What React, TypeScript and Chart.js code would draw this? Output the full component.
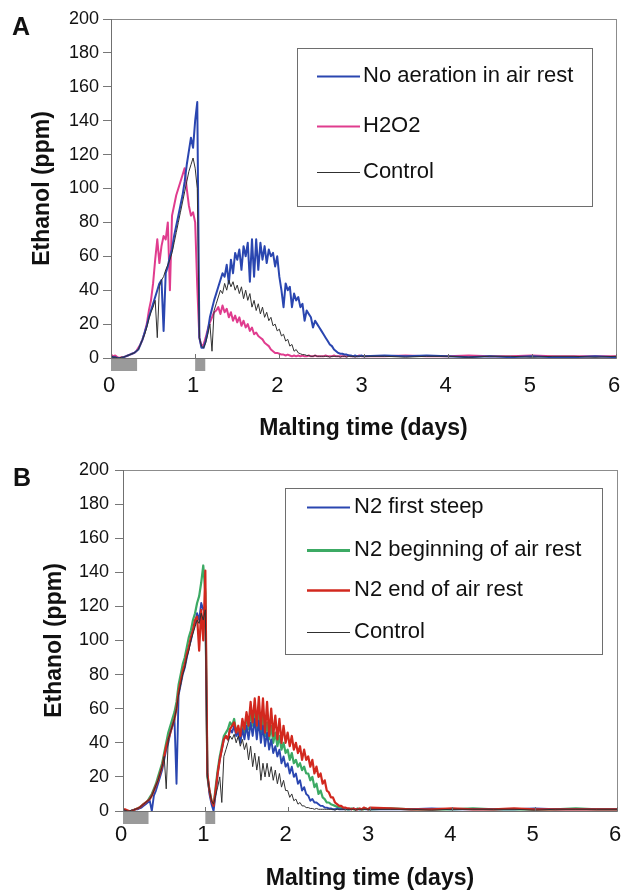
import React, { useEffect, useRef } from "react";
import { Chart, registerables } from "chart.js";

Chart.register(...registerables);

const FONT = '"Liberation Sans", Arial, Helvetica, sans-serif';
const CANVAS_W = 660;
const PANEL_H = 446;

// Malting time (days), shared x values for all series
const timeDays = [
  0, 0.025, 0.05, 0.075, 0.1, 0.125, 0.15, 0.175, 0.2, 0.225,
  0.25, 0.275, 0.3, 0.325, 0.35, 0.375, 0.4, 0.425, 0.45, 0.475,
  0.5, 0.525, 0.55, 0.575, 0.6, 0.625, 0.65, 0.675, 0.7, 0.725,
  0.75, 0.775, 0.8, 0.825, 0.85, 0.875, 0.9, 0.925, 0.95, 0.975,
  1.0, 1.025, 1.05, 1.075, 1.1, 1.125, 1.15, 1.175, 1.2, 1.225,
  1.25, 1.275, 1.3, 1.325, 1.35, 1.375, 1.4, 1.425, 1.45, 1.475,
  1.5, 1.525, 1.55, 1.575, 1.6, 1.625, 1.65, 1.675, 1.7, 1.725,
  1.75, 1.775, 1.8, 1.825, 1.85, 1.875, 1.9, 1.925, 1.95, 1.975,
  2.0, 2.025, 2.05, 2.075, 2.1, 2.125, 2.15, 2.175, 2.2, 2.225,
  2.25, 2.275, 2.3, 2.325, 2.35, 2.375, 2.4, 2.425, 2.45, 2.475,
  2.5, 2.525, 2.55, 2.575, 2.6, 2.625, 2.65, 2.675, 2.7, 2.725,
  2.75, 2.775, 2.8, 2.825, 2.85, 2.875, 2.9, 2.925, 2.95, 2.975,
  3.0,
  3.25, 3.5, 3.75, 4.0, 4.25, 4.5, 4.75, 5.0, 5.25, 5.5, 5.75, 6.0,
];

// Steeping periods (grey bars under the x axis), in days
const steepPeriods = [
  [0, 0.31],
  [1.0, 1.12],
];

// Axis ranges
const xMin = 0, xMax = 6, xStep = 1;
const yMin = 0, yMax = 200, yStep = 20;

// ---------- Panel A ----------
const noAerationA = [
  1, 0.5, 0.5, 0, 0, 0, 0.5, 1, 1.5, 2,
  2.5, 3, 4, 5, 8, 11, 15, 19, 24, 28,
  32, 36, 40, 44, 46, 16, 50, 54, 60, 64,
  72, 78, 84, 90, 96, 104, 114, 122, 130, 124,
  140, 151, 12, 6, 6, 10, 16, 24, 29, 34,
  38, 42, 46, 50, 48, 55, 44, 58, 50, 62,
  58, 64, 52, 66, 60, 68, 45, 70, 48, 70,
  52, 68, 58, 66, 56, 64, 60, 62, 54, 60,
  48, 40, 30, 44, 40, 42, 30, 38, 34, 36,
  30, 32, 22, 28, 26, 24, 18, 22, 20, 18,
  16, 14, 12, 10, 8, 7, 5, 4, 3, 2.5,
  2.5, 2, 2, 1.5, 1.5, 1, 1.5, 1, 1, 1.5,
  1,
  1.5, 1, 1.5, 1, 0.5, 1, 0.5, 1, 0.5, 0.5, 1, 0.5,
];

const h2o2A = [
  2, 1, 1.5, 0.5, 0, 0.5, 0.5, 1, 1.5, 2,
  2.5, 3, 4, 6, 8, 11, 15, 20, 28, 34,
  44, 58, 70, 56, 66, 72, 70, 80, 40, 84,
  90, 96, 100, 104, 108, 112, 100, 90, 84, 86,
  80, 42, 12, 7, 8, 12, 17, 21, 24, 27,
  28, 30, 26, 31, 27, 29, 24, 27, 22, 25,
  21, 24, 19, 22, 18, 20, 16, 18, 14, 15,
  13, 12, 11, 9, 8, 7, 5, 4, 3, 3,
  2.5, 2, 2, 1.5, 2, 1.5, 1, 1.5, 1, 1.5,
  1, 1.5, 1, 1, 1.5, 1, 1, 1.5, 1, 1,
  1, 1, 1.5, 1, 1, 1, 1.5, 1, 1, 1,
  1, 1, 1, 1.5, 1, 1, 1, 1, 1.5, 1,
  1,
  1, 1.5, 1, 1, 1.5, 1, 1, 1.5, 1, 1, 1, 1,
];

const controlA = [
  1, 0.5, 0.5, 0, 0, 0.5, 0.5, 1, 1.5, 2,
  2.5, 3, 4, 5, 8, 11, 14, 18, 23, 27,
  30, 34, 12, 42, 46, 48, 52, 55, 58, 62,
  68, 74, 80, 86, 92, 98, 104, 110, 114, 118,
  112, 100, 12, 7, 6, 9, 14, 20, 4, 28,
  32, 36, 40, 38, 44, 40, 46, 42, 45, 40,
  43, 38, 42, 35, 40, 34, 38, 30, 34, 28,
  32, 26, 30, 24, 27, 22, 24, 19, 20, 16,
  17, 13, 14, 10, 11, 7, 8, 4, 5, 3,
  2.5, 2, 2, 1.5, 1.5, 1, 1, 1.5, 1, 1,
  1, 1, 1, 1, 0.5, 1, 1, 1, 1, 0.5,
  1, 1, 0.5, 1, 1, 1, 0.5, 1, 1, 1,
  1,
  1, 0.5, 1, 1, 0.5, 1, 1, 0.5, 1, 1, 0.5, 1,
];

// ---------- Panel B ----------
const n2FirstSteepB = [
  1, 0.5, 0, 0, 0, 0.5, 1, 1, 1.5, 2,
  3, 4, 5, 6, 0, 9, 12, 16, 20, 24,
  30, 36, 40, 46, 50, 54, 16, 68, 74, 80,
  84, 90, 96, 100, 106, 110, 116, 112, 122, 118,
  120, 22, 10, 4, 0, 10, 22, 30, 36, 42,
  44, 42, 48, 46, 50, 44, 46, 40, 48, 42,
  50, 42, 52, 44, 54, 42, 53, 40, 50, 38,
  46, 36, 42, 34, 38, 32, 36, 28, 32, 26,
  28, 22, 26, 20, 22, 16, 18, 12, 14, 10,
  9, 6, 7, 5, 5, 4, 3, 3, 2, 2,
  1.5, 1.5, 1, 1, 1.5, 1, 1, 1, 1.5, 1,
  1, 1, 1.5, 1, 1, 1, 1, 1.5, 1, 1,
  1,
  1, 1, 1.5, 1, 1, 1, 1, 1.5, 1, 1, 1, 1,
];

const n2BeginningB = [
  1, 0.5, 0, 0, 0, 0.5, 1, 1.5, 2, 3,
  4, 5, 6, 8, 10, 13, 16, 20, 24, 28,
  34, 40, 46, 50, 54, 58, 64, 74, 80, 86,
  90, 96, 102, 106, 112, 116, 122, 126, 134, 144,
  128, 20, 12, 6, 3, 14, 24, 32, 38, 44,
  46, 48, 52, 50, 54, 46, 48, 42, 52, 46,
  56, 48, 58, 50, 58, 48, 57, 46, 56, 44,
  52, 42, 50, 40, 46, 38, 44, 36, 40, 34,
  36, 30, 34, 28, 30, 26, 28, 24, 26, 22,
  22, 18, 20, 14, 16, 10, 12, 8, 7, 5,
  5, 4, 3.5, 3, 2.5, 2, 2, 1.5, 1.5, 1,
  1, 1.5, 1, 1, 1.5, 1, 1, 1, 1.5, 1,
  1,
  1.5, 1, 1, 1, 1.5, 1, 1, 1, 1, 1.5, 1, 1,
];

const n2EndB = [
  1, 1, 0.5, 0, 0, 0.5, 1, 1.5, 2, 3,
  4, 5, 6, 7, 9, 12, 15, 18, 22, 26,
  32, 38, 42, 46, 50, 54, 60, 70, 76, 82,
  86, 92, 96, 102, 106, 112, 114, 94, 118, 100,
  141, 22, 12, 6, 3, 12, 22, 30, 36, 42,
  44, 42, 48, 50, 52, 46, 50, 44, 54, 48,
  58, 50, 64, 52, 66, 50, 67, 48, 66, 46,
  64, 44, 60, 44, 56, 42, 54, 40, 50, 40,
  46, 38, 44, 36, 40, 34, 38, 30, 36, 30,
  32, 26, 30, 22, 26, 20, 22, 16, 18, 12,
  11, 8, 8, 5, 4, 3, 3, 2, 2, 1.5,
  1.5, 1, 1.5, 1, 1, 1.5, 1, 2, 1.5, 1,
  2,
  1.5, 1, 1, 1.5, 1, 1, 1.5, 1, 1, 1, 1, 1,
];

const controlB = [
  1, 0.5, 0, 0, 0.5, 0.5, 1, 1.5, 2, 3,
  4, 5, 6, 7, 9, 12, 15, 18, 22, 26,
  32, 13, 42, 46, 50, 54, 60, 68, 74, 80,
  84, 90, 94, 100, 104, 108, 112, 110, 116, 112,
  118, 20, 12, 6, 4, 9, 14, 20, 5, 32,
  36, 40, 44, 42, 45, 40, 44, 38, 42, 36,
  40, 30, 38, 26, 34, 24, 32, 18, 28, 20,
  28, 20, 26, 18, 24, 16, 22, 14, 18, 12,
  12, 8, 10, 6, 7, 4, 5, 3, 3, 2,
  2, 1.5, 1.5, 1, 1.5, 1, 1, 1, 1, 1,
  1, 1, 1, 0.5, 1, 1, 1, 1, 0.5, 1,
  1, 1, 1, 0.5, 1, 1, 1, 1, 1, 1,
  1,
  1, 1, 0.5, 1, 1, 1, 1, 0.5, 1, 1, 1, 1,
];

type Series = { label: string; values: number[]; color: string; width: number; legendWidth: number; order: number };

const seriesA: Series[] = [
  { label: "No aeration in air rest", values: noAerationA, color: "#2a46b0", width: 2, legendWidth: 2.2, order: 1 },
  { label: "H2O2", values: h2o2A, color: "#e03c8e", width: 2, legendWidth: 2, order: 2 },
  { label: "Control", values: controlA, color: "#303030", width: 1, legendWidth: 1, order: 0 },
];

const seriesB: Series[] = [
  { label: "N2 first steep", values: n2FirstSteepB, color: "#2a46b0", width: 1.9, legendWidth: 2, order: 2 },
  { label: "N2 beginning of air rest", values: n2BeginningB, color: "#3caa64", width: 2.2, legendWidth: 3, order: 3 },
  { label: "N2 end of air rest", values: n2EndB, color: "#d2281e", width: 2.2, legendWidth: 2.5, order: 1 },
  { label: "Control", values: controlB, color: "#303030", width: 1, legendWidth: 1, order: 0 },
];

type Layout = {
  top: number; left: number; right: number; xAxisHeight: number;
  xTickPad: number; xTitlePad: number; yTickPad: number; yTitlePad: number;
  legendBox: [number, number, number, number]; legendRows: number[];
  legendLine: [number, number]; legendTextX: number;
};

const layoutA: Layout = {
  top: 19, left: 111, right: 616, xAxisHeight: 88,
  xTickPad: 15, xTitlePad: 5.5, yTickPad: 4, yTitlePad: 31.5,
  legendBox: [297, 48, 592, 206], legendRows: [76, 126, 172],
  legendLine: [317, 360], legendTextX: 363,
};

const layoutB: Layout = {
  top: 24, left: 123, right: 617, xAxisHeight: 81,
  xTickPad: 11, xTitlePad: 2, yTickPad: 6, yTitlePad: 43.5,
  legendBox: [285, 42, 602, 208], legendRows: [61, 104, 144, 186],
  legendLine: [307, 350], legendTextX: 354,
};

function makeDecor(L: Layout) {
  return {
    id: "decor",
    afterDraw(chart: any) {
      const { ctx, chartArea: a, scales } = chart;
      const x = scales.x;
      ctx.save();
      // steep period bars
      ctx.fillStyle = "#9a9a9a";
      for (const [s, e] of steepPeriods) {
        const x1 = x.getPixelForValue(s);
        const x2 = x.getPixelForValue(e);
        ctx.fillRect(x1, a.bottom + 1, x2 - x1, 12);
      }
      // plot frame
      ctx.lineWidth = 1;
      ctx.strokeStyle = "#8c8c8c";
      ctx.strokeRect(Math.round(a.left) + 0.5, Math.round(a.top) + 0.5, Math.round(a.right - a.left), Math.round(a.bottom - a.top));
      // axis lines
      ctx.strokeStyle = "#707070";
      ctx.beginPath();
      ctx.moveTo(Math.round(a.left) + 0.5, Math.round(a.top));
      ctx.lineTo(Math.round(a.left) + 0.5, Math.round(a.bottom) + 0.5);
      ctx.lineTo(Math.round(a.right), Math.round(a.bottom) + 0.5);
      ctx.stroke();
      // inside tick marks on x
      ctx.beginPath();
      for (const t of x.ticks) {
        const px = Math.round(x.getPixelForValue(t.value)) + 0.5;
        ctx.moveTo(px, a.bottom);
        ctx.lineTo(px, a.bottom - 4);
      }
      ctx.stroke();
      // legend
      const [bx1, by1, bx2, by2] = L.legendBox;
      ctx.fillStyle = "#ffffff";
      ctx.fillRect(bx1, by1, bx2 - bx1, by2 - by1);
      ctx.strokeStyle = "#6e6e6e";
      ctx.lineWidth = 1;
      ctx.strokeRect(bx1 + 0.5, by1 + 0.5, bx2 - bx1, by2 - by1);
      ctx.font = `22px ${FONT}`;
      ctx.textBaseline = "middle";
      ctx.textAlign = "left";
      chart.data.datasets.forEach((ds: any, i: number) => {
        const y = L.legendRows[i];
        ctx.strokeStyle = ds.borderColor;
        ctx.lineWidth = ds.legendWidth;
        ctx.beginPath();
        ctx.moveTo(L.legendLine[0], y + 0.5);
        ctx.lineTo(L.legendLine[1], y + 0.5);
        ctx.stroke();
        ctx.fillStyle = "#111111";
        ctx.fillText(ds.label, L.legendTextX, y);
      });
      ctx.restore();
    },
  };
}

function buildChart(canvas: HTMLCanvasElement, series: Series[], L: Layout) {
  return new Chart(canvas, {
    type: "line",
    data: {
      datasets: series.map((s) => ({
        label: s.label,
        data: timeDays.map((t, i) => ({ x: t, y: s.values[i] })),
        borderColor: s.color,
        backgroundColor: s.color,
        borderWidth: s.width,
        legendWidth: s.legendWidth,
        pointRadius: 0,
        tension: 0,
        fill: false,
        order: s.order,
        borderJoinStyle: "round",
        borderCapStyle: "round",
      })) as any,
    },
    options: {
      responsive: false,
      animation: false,
      devicePixelRatio: 1,
      layout: { padding: { left: 0, top: L.top, right: CANVAS_W - L.right, bottom: 0 } },
      plugins: { legend: { display: false }, tooltip: { enabled: false } },
      scales: {
        x: {
          type: "linear",
          min: xMin,
          max: xMax,
          afterFit: (s: any) => { s.height = L.xAxisHeight; },
          grid: { display: false, drawTicks: false, tickLength: 0 },
          border: { display: false },
          ticks: {
            stepSize: xStep,
            font: { size: 22, family: FONT },
            color: "#111",
            padding: L.xTickPad,
            labelOffset: -2,
            maxRotation: 0,
            autoSkip: false,
          },
          title: {
            display: true,
            text: "Malting time (days)",
            color: "#111",
            font: { size: 23, weight: "bold", family: FONT, lineHeight: 1 },
            padding: { top: 0, bottom: L.xTitlePad },
          },
        },
        y: {
          min: yMin,
          max: yMax,
          afterFit: (s: any) => { s.width = L.left; },
          grid: { display: true, drawOnChartArea: false, drawTicks: true, tickLength: 8, color: "#777" },
          border: { display: false },
          ticks: {
            stepSize: yStep,
            font: { size: 18, family: FONT },
            color: "#111",
            padding: L.yTickPad,
          },
          title: {
            display: true,
            text: "Ethanol (ppm)",
            color: "#111",
            font: { size: 23, weight: "bold", family: FONT, lineHeight: 1 },
            padding: { top: L.yTitlePad, bottom: 0 },
          },
        },
      },
    } as any,
    plugins: [makeDecor(L) as any],
  });
}

function Panel({ top, series, layout }: { top: number; series: Series[]; layout: Layout }) {
  const ref = useRef<HTMLCanvasElement>(null);
  useEffect(() => {
    if (!ref.current) return;
    const chart = buildChart(ref.current, series, layout);
    return () => chart.destroy();
  }, []);
  return (
    <canvas
      ref={ref}
      width={CANVAS_W}
      height={PANEL_H}
      style={{ position: "absolute", left: 0, top, width: CANVAS_W, height: PANEL_H }}
    />
  );
}

const letterStyle: React.CSSProperties = {
  position: "absolute",
  fontFamily: FONT,
  fontWeight: "bold",
  fontSize: 25,
  lineHeight: "25px",
  color: "#111",
};

export default function App() {
  return (
    <div
      style={{
        position: "absolute",
        left: 0,
        top: 0,
        width: 621,
        height: 892,
        overflow: "hidden",
        background: "#ffffff",
      }}
    >
      <Panel top={0} series={seriesA} layout={layoutA} />
      <Panel top={PANEL_H} series={seriesB} layout={layoutB} />
      <div style={{ ...letterStyle, left: 12, top: 14 }}>A</div>
      <div style={{ ...letterStyle, left: 13, top: 465 }}>B</div>
    </div>
  );
}
